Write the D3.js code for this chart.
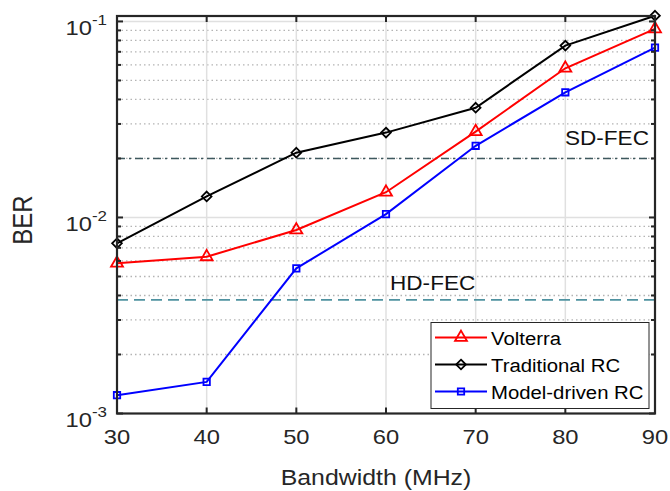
<!DOCTYPE html>
<html>
<head>
<meta charset="utf-8">
<script src="https://cdn.jsdelivr.net/npm/d3@7/dist/d3.min.js"></script>
<style>
  html, body { margin: 0; padding: 0; background: #fff; }
  svg { display: block; font-family: "Liberation Sans", Arial, Helvetica, sans-serif; }
</style>
</head>
<body>
<svg id="chart" width="670" height="491"></svg>
<script>
// Bandwidth sweep (MHz)
const bandwidth = [30, 40, 50, 60, 70, 80, 90];

// BER per equalizer
const volterra      = [0.00584, 0.0063, 0.00863, 0.01345, 0.0274, 0.0577, 0.0916];
const traditionalRC = [0.00738, 0.0128, 0.0214, 0.0271, 0.0363, 0.0753, 0.107];
const modelDrivenRC = [0.00124, 0.00145, 0.0055, 0.0104, 0.0232, 0.0435, 0.0735];

// FEC thresholds
const sdFec = 0.02;
const hdFec = 0.0038;

const xTicks = [30, 40, 50, 60, 70, 80, 90];
const yTicks = [1e-3, 1e-2, 1e-1];
const yTickExp = ["-3", "-2", "-1"];

const series = [
  { name: "Volterra", values: volterra, color: "#ff0000", marker: "triangle" },
  { name: "Traditional RC", values: traditionalRC, color: "#000000", marker: "diamond" },
  { name: "Model-driven RC", values: modelDrivenRC, color: "#0000ff", marker: "square" }
];

const svg = d3.select("#chart");
const L = 117, R = 655, T = 16, B = 413.5;
const axisColor = "#262626";
const SX = 1.13; // horizontal glyph stretch used for all labels

const x = d3.scaleLinear().domain([30, 90]).range([L, R]);
const y = d3.scaleLog().domain([1e-3, 0.1066]).range([B, T]);

// text placed through a group so glyphs can be widened a little
function label(parent, px, py, str, size, anchor, color) {
  const g = parent.append("g").attr("transform", `translate(${px},${py}) scale(${SX},1)`);
  return g.append("text").attr("x", 0).attr("y", 0)
    .attr("text-anchor", anchor || "start")
    .attr("font-size", size).attr("fill", color || axisColor)
    .text(str);
}

// minor grid (2..9 within each decade)
const minorVals = [];
for (let e = -3; e <= -2; e++) {
  for (let m = 2; m <= 9; m++) minorVals.push(m * Math.pow(10, e));
}
svg.append("g").selectAll("line").data(minorVals).join("line")
  .attr("x1", L).attr("x2", R)
  .attr("y1", d => y(d)).attr("y2", d => y(d))
  .attr("stroke", "#b4b4b4").attr("stroke-width", 1.3)
  .attr("stroke-dasharray", "1.5,3");

// major grid
svg.append("g").selectAll("line").data(xTicks.slice(1, -1)).join("line")
  .attr("x1", d => x(d)).attr("x2", d => x(d))
  .attr("y1", T).attr("y2", B)
  .attr("stroke", "#e0e0e0").attr("stroke-width", 1.5);
svg.append("g").selectAll("line").data(yTicks.slice(1)).join("line")
  .attr("x1", L).attr("x2", R)
  .attr("y1", d => y(d)).attr("y2", d => y(d))
  .attr("stroke", "#e0e0e0").attr("stroke-width", 1.5);

// FEC threshold lines
svg.append("line")
  .attr("x1", L).attr("x2", R).attr("y1", y(sdFec)).attr("y2", y(sdFec))
  .attr("stroke", "#3e585e").attr("stroke-width", 1.6)
  .attr("stroke-dasharray", "8,4,2,4");
svg.append("line")
  .attr("x1", L).attr("x2", R).attr("y1", y(hdFec)).attr("y2", y(hdFec))
  .attr("stroke", "#4f92a0").attr("stroke-width", 1.6)
  .attr("stroke-dasharray", "11,6");

label(svg, 649, y(sdFec) - 13, "SD-FEC", 20, "end", "#111");
label(svg, 390, y(hdFec) - 9.5, "HD-FEC", 20, "start", "#111");

// marker symbols
const symbolFor = {
  triangle: d3.symbol().type(d3.symbolTriangle).size(62),
  diamond: d3.symbol().type(d3.symbolDiamond2).size(60),
  square: d3.symbol().type(d3.symbolSquare2).size(52)
};

const line = d3.line().x((d, i) => x(bandwidth[i])).y(d => y(d));

series.forEach(s => {
  const g = svg.append("g");
  g.append("path").datum(s.values)
    .attr("d", line).attr("fill", "none")
    .attr("stroke", s.color).attr("stroke-width", 2);
  g.selectAll("path.mk").data(s.values).join("path").attr("class", "mk")
    .attr("d", symbolFor[s.marker])
    .attr("transform", (d, i) => `translate(${x(bandwidth[i])},${y(d)})`)
    .attr("fill", "none").attr("stroke", s.color).attr("stroke-width", 1.8);
});

// axes box
svg.append("rect").attr("x", L).attr("y", T).attr("width", R - L).attr("height", B - T)
  .attr("fill", "none").attr("stroke", axisColor).attr("stroke-width", 2.2);

// x ticks (inward, bottom and top)
const xt = svg.append("g");
xTicks.forEach(v => {
  xt.append("line").attr("x1", x(v)).attr("x2", x(v)).attr("y1", B).attr("y2", B - 6)
    .attr("stroke", axisColor).attr("stroke-width", 2);
  xt.append("line").attr("x1", x(v)).attr("x2", x(v)).attr("y1", T).attr("y2", T + 6)
    .attr("stroke", axisColor).attr("stroke-width", 2);
  label(xt, x(v), 444, String(v), 21, "middle");
});

// y ticks: major and minor, left and right, inward
const yt = svg.append("g");
yTicks.forEach(v => {
  [[L, L + 6], [R, R - 6]].forEach(([a, b]) => {
    yt.append("line").attr("x1", a).attr("x2", b).attr("y1", y(v)).attr("y2", y(v))
      .attr("stroke", axisColor).attr("stroke-width", 2);
  });
});
minorVals.forEach(v => {
  [[L, L + 4], [R, R - 4]].forEach(([a, b]) => {
    yt.append("line").attr("x1", a).attr("x2", b).attr("y1", y(v)).attr("y2", y(v))
      .attr("stroke", axisColor).attr("stroke-width", 2);
  });
});
yTicks.forEach((v, i) => {
  const t = label(yt, 107, y(v) + 13.5, "", 21, "end");
  t.append("tspan").text("10");
  t.append("tspan").attr("dy", -10).attr("font-size", 15).text(yTickExp[i]);
});

// axis titles
label(svg, 376, 485, "Bandwidth (MHz)", 22, "middle");
svg.append("text").attr("transform", `translate(32,220) scale(${SX},1) rotate(-90)`)
  .attr("text-anchor", "middle").attr("font-size", 24).attr("fill", axisColor).text("BER");

// legend
const lg = svg.append("g");
lg.append("rect").attr("x", 431).attr("y", 322.5).attr("width", 218).attr("height", 86)
  .attr("fill", "#fff").attr("stroke", "#262626").attr("stroke-width", 1);
const legY = [337.5, 364.5, 391.5];
series.forEach((s, i) => {
  lg.append("line").attr("x1", 435).attr("x2", 487).attr("y1", legY[i]).attr("y2", legY[i])
    .attr("stroke", s.color).attr("stroke-width", 2);
  lg.append("path").attr("d", symbolFor[s.marker])
    .attr("transform", `translate(461,${legY[i]})`)
    .attr("fill", "none").attr("stroke", s.color).attr("stroke-width", 1.8);
  label(lg, 491, legY[i] + 7, s.name, 18, "start", "#000");
});
</script>
</body>
</html>
